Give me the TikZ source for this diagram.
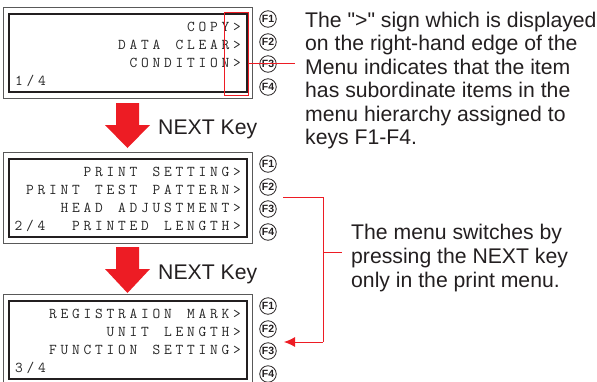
\documentclass[tikz,border=0pt]{standalone}
\usepackage{fontspec}
\setmainfont{Liberation Sans}
\usetikzlibrary{arrows.meta}
\definecolor{fred}{HTML}{ED1C24}
\definecolor{ink}{HTML}{231F20}
\makeatletter
\newcommand\lcdrow[1]{\lcd@loop#1\relax}
\def\lcd@loop#1{\ifx#1\relax\else\makebox[11.5pt]{#1}\expandafter\lcd@loop\fi}
\makeatother
\tikzset{
  outerbox/.style={draw=black!65, line width=0.9pt, minimum width=249pt, minimum height=91pt, inner sep=0pt},
  innerbox/.style={draw=ink, line width=2pt, minimum width=238pt, minimum height=78pt, inner sep=0pt},
  lcd/.style={inner sep=0pt, text=black!85, font=\ttfamily\fontsize{15}{16}\selectfont},
  fkey/.style={circle, draw=ink, line width=0.8pt, minimum size=16.5pt, inner sep=0pt, text=ink, font=\fontsize{10.5}{11}\selectfont\bfseries},
  body/.style={inner sep=0pt, text=ink, font=\fontsize{21.2}{24}\selectfont},
  redline/.style={draw=fred, line width=0.9pt},
  bigarrow/.style={fill=fred, draw=none},
}
\begin{document}
\begin{tikzpicture}[x=1pt, y=-1pt]
\useasboundingbox (0,0) rectangle (597,381);
\clip (0,0) rectangle (597,381);
% ---------- Box 1 ----------
\node[outerbox] (o1) at (127.5,52.5) {};
\node[innerbox] (i1) at (128,53) {};
\node[lcd, anchor=base east] (l11) at (243,31.5) {\lcdrow{COPY>}};
\node[lcd, anchor=base east] (l12) at (243,49.5) {\lcdrow{DATA~CLEAR>}};
\node[lcd, anchor=base east] (l13) at (243,67.5) {\lcdrow{CONDITION>}};
\node[lcd, anchor=base west] (l14) at (13,85.5) {\lcdrow{1/4}};
\node[fkey] (f11) at (268,19) {F1};
\node[fkey] (f12) at (268,42) {F2};
\node[fkey] (f13) at (268,64) {F3};
\node[fkey] (f14) at (268,87) {F4};
\node[draw=fred, line width=0.9pt, minimum width=24pt, minimum height=83pt, inner sep=0pt] (hl) at (236.5,53.5) {};
\coordinate (hlA) at (248.5,63);
\coordinate (hlB) at (295,63);
\draw[redline] (hlA) -- (hlB);
% ---------- Box 2 ----------
\node[outerbox] (o2) at (127.5,197.5) {};
\node[innerbox] (i2) at (128,198) {};
\node[lcd, anchor=base east] (l21) at (243,176.5) {\lcdrow{PRINT~SETTING>}};
\node[lcd, anchor=base east] (l22) at (243,194.5) {\lcdrow{PRINT~TEST~PATTERN>}};
\node[lcd, anchor=base east] (l23) at (243,212.5) {\lcdrow{HEAD~ADJUSTMENT>}};
\node[lcd, anchor=base east] (l24) at (243,230.5) {\lcdrow{2/4~~PRINTED~LENGTH>}};
\node[fkey] (f21) at (268,164) {F1};
\node[fkey] (f22) at (268,187) {F2};
\node[fkey] (f23) at (268,209) {F3};
\node[fkey] (f24) at (268,232) {F4};
% ---------- Box 3 ----------
\node[outerbox] (o3) at (127.5,339.5) {};
\node[innerbox] (i3) at (128,340) {};
\node[lcd, anchor=base east] (l31) at (243,318.5) {\lcdrow{REGISTRAION~MARK>}};
\node[lcd, anchor=base east] (l32) at (243,336.5) {\lcdrow{UNIT~LENGTH>}};
\node[lcd, anchor=base east] (l33) at (243,354.5) {\lcdrow{FUNCTION~SETTING>}};
\node[lcd, anchor=base west] (l34) at (13,372.5) {\lcdrow{3/4}};
\node[fkey] (f31) at (268,306) {F1};
\node[fkey] (f32) at (268,329) {F2};
\node[fkey] (f33) at (268,351) {F3};
\node[fkey] (f34) at (268,374) {F4};
% ---------- NEXT arrows ----------
\fill[bigarrow] (116,103) -- (139,103) -- (139,125) -- (150,125) -- (127.5,148) -- (105,125) -- (116,125) -- cycle;
\node[body, anchor=base west] (n1) at (158,134.5) {NEXT Key};
\fill[bigarrow] (116,247) -- (139,247) -- (139,269) -- (150,269) -- (127.5,293) -- (105,269) -- (116,269) -- cycle;
\node[body, anchor=base west] (n2) at (158,279.5) {NEXT Key};
% ---------- Right-hand notes ----------
\node[body, anchor=base west] (t1) at (305,27) {The \textquotedbl>\textquotedbl{} sign which is displayed};
\node[body, anchor=base west] (t2) at (305,50.5) {on the right-hand edge of the};
\node[body, anchor=base west] (t3) at (305,74) {Menu indicates that the item};
\node[body, anchor=base west] (t4) at (305,97.5) {has subordinate items in the};
\node[body, anchor=base west] (t5) at (305,121) {menu hierarchy assigned to};
\node[body, anchor=base west] (t6) at (305,144.5) {keys F1-F4.};
\node[body, anchor=base west] (u1) at (351,239) {The menu switches by};
\node[body, anchor=base west] (u2) at (351,263) {pressing the NEXT key};
\node[body, anchor=base west] (u3) at (351,287) {only in the print menu.};
% ---------- bracket connector ----------
\coordinate (bs) at (283,197);
\coordinate (bk) at (323,342);
\coordinate (be) at (284,342);
\coordinate (bj) at (323,252);
\coordinate (bt) at (342,252);
\draw[redline] (bs) -| (bk);
\draw[redline, -{Latex[length=11pt,width=10pt]}] (bk) -- (be);
\draw[redline] (bj) -- (bt);
\end{tikzpicture}
\end{document}
